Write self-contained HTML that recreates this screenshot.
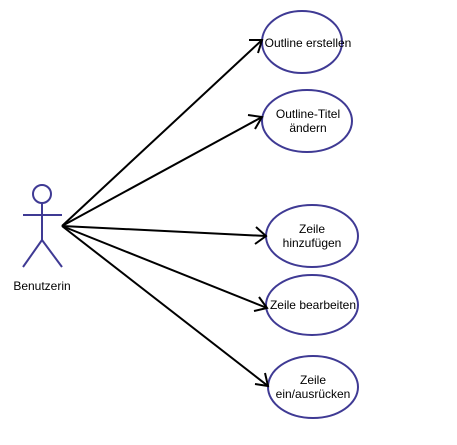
<!DOCTYPE html>
<html><head><style>body{margin:0;background:#fff}svg{display:block}</style></head><body>
<svg width="457" height="445" viewBox="0 0 457 445" xmlns="http://www.w3.org/2000/svg" font-family="Liberation Sans, sans-serif" font-size="12">
<g stroke="#3f3a94" stroke-width="2" fill="none">
<circle cx="42" cy="194" r="9"/>
<line x1="42" y1="203" x2="42" y2="240"/>
<line x1="23" y1="215" x2="62" y2="215"/>
<line x1="42" y1="240" x2="23" y2="267"/>
<line x1="42" y1="240" x2="62" y2="267"/>
<ellipse cx="302" cy="42" rx="40" ry="31" fill="#fff"/>
<ellipse cx="307" cy="121" rx="45" ry="31" fill="#fff"/>
<ellipse cx="312" cy="236" rx="46" ry="31" fill="#fff"/>
<ellipse cx="312" cy="305" rx="46" ry="30" fill="#fff"/>
<ellipse cx="313" cy="387" rx="45" ry="31" fill="#fff"/>
</g>
<g stroke="#000" stroke-width="2" fill="none">
<line x1="62" y1="226" x2="262" y2="40"/>
<polyline points="249,40 262,40 258,53"/>
<line x1="62" y1="226" x2="262" y2="117"/>
<polyline points="248,115 262,117 255,129"/>
<line x1="62" y1="226" x2="266" y2="236"/>
<polyline points="256,227 266,236 255,244"/>
<line x1="62" y1="226" x2="267" y2="308"/>
<polyline points="259,297 267,308 254,311"/>
<line x1="62" y1="226" x2="268" y2="386"/>
<polyline points="265,373 268,386 255,384"/>
</g>
<g fill="#000" text-anchor="middle">
<text x="42" y="290">Benutzerin</text>
<text x="308" y="47">Outline erstellen</text>
<text x="308" y="118">Outline-Titel</text>
<text x="308" y="132">ändern</text>
<text x="312" y="233">Zeile</text>
<text x="312" y="247">hinzufügen</text>
<text x="313" y="309">Zeile bearbeiten</text>
<text x="313" y="384">Zeile</text>
<text x="313" y="398">ein/ausrücken</text>
</g>
</svg>
</body></html>
